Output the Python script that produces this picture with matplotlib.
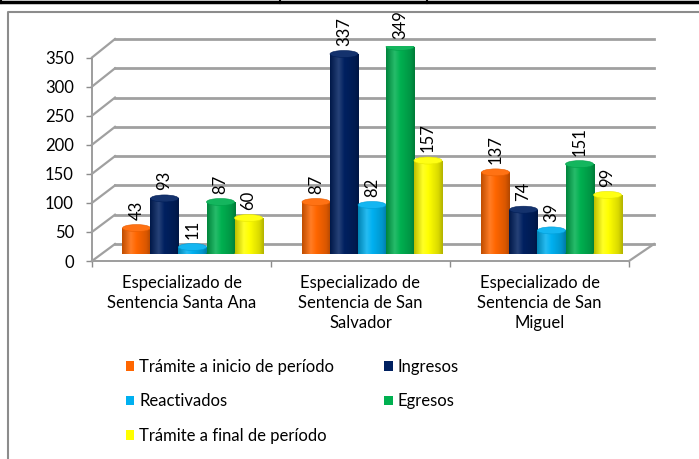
import numpy as np
import matplotlib
matplotlib.use('Agg')
import matplotlib.pyplot as plt
from matplotlib.colors import to_rgb, LinearSegmentedColormap
from matplotlib.patches import Ellipse, Patch
from matplotlib.lines import Line2D

plt.rcParams['font.family'] = ['Lato', 'DejaVu Sans']

#%% datos
categorias = ['Especializado de\nSentencia Santa Ana',
              'Especializado de\nSentencia de San\nSalvador',
              'Especializado de\nSentencia de San\nMiguel']
series = ['Trámite a inicio de período', 'Ingresos', 'Reactivados',
          'Egresos', 'Trámite a final de período']
tramite_inicio = [43, 87, 137]
ingresos = [93, 337, 74]
reactivados = [11, 82, 39]
egresos = [87, 349, 151]
tramite_final = [60, 157, 99]
colores = ['#FF6600', '#002060', '#00B0F0', '#00B050', '#FFFF00']
y_ticks = [0, 50, 100, 150, 200, 250, 300, 350]

valores = [tramite_inicio, ingresos, reactivados, egresos, tramite_final]

#%% figura
W, H = 699, 459
fig = plt.figure(figsize=(W / 100, H / 100), dpi=100)


def box(x0, y0, x1, y1):
    # caja en pixeles (origen arriba a la izquierda) -> rect de figura
    return [x0 / W, 1 - y1 / H, (x1 - x0) / W, (y1 - y0) / H]


def mezcla(c, f):
    c = np.array(to_rgb(c))
    if f >= 0:
        return tuple(c + (1 - c) * f)
    return tuple(c * (1 + f))


# pared del fondo
wall = fig.add_axes(box(115, 39, 654, 244))
wall.set_xlim(0, 1)
wall.set_ylim(0, 350)
wall.axis('off')
for v in y_ticks:
    wall.axhline(v, color='#A0A0A0', lw=2, clip_on=False, zorder=1)

# eje frontal
ax = fig.add_axes(box(92, 57.5, 629, 261))
ax.patch.set_visible(False)
ax.set_xlim(-0.5, 2.5)
ax.set_ylim(0, 350)
for s in ['top', 'right']:
    ax.spines[s].set_visible(False)
for s in ['left', 'bottom']:
    ax.spines[s].set_color('#8C8C8C')
    ax.spines[s].set_linewidth(1.2)
ax.set_yticks(y_ticks)
ax.set_yticklabels([str(v) for v in y_ticks], fontsize=12)
ax.tick_params(axis='y', length=4, width=1, color='#8C8C8C', pad=9)
ax.set_xticks([-0.5, 0.5, 1.5, 2.5])
ax.set_xticklabels([])
ax.tick_params(axis='x', which='major', length=4, width=1, color='#8C8C8C')
ax.set_xticks([0, 1, 2], minor=True)
ax.set_xticklabels(categorias, minor=True, fontsize=12)
ax.tick_params(axis='x', which='minor', length=0, pad=10)
for t in ax.get_xticklabels(minor=True):
    t.set_linespacing(1.3)

# barras (cilindros)
axb = fig.add_axes(box(102.75, 253.5 - 350 * 0.592, 641.25, 253.5))
axb.set_xlim(-0.5, 2.5)
axb.set_ylim(0, 350)
axb.axis('off')

ancho = 0.156
elip = 7 / 0.592
grad = np.linspace(0, 1, 64).reshape(1, -1)
for k, (vals, col) in enumerate(zip(valores, colores)):
    x = np.arange(len(categorias)) + (k - 2) * ancho
    cmap = LinearSegmentedColormap.from_list(
        'c%d' % k, [(0, mezcla(col, -0.25)), (0.3, mezcla(col, 0.15)),
                    (0.5, mezcla(col, 0.0)), (0.85, mezcla(col, -0.15)),
                    (1, mezcla(col, -0.3))])
    z = 3 + k * 0.1
    rects = axb.bar(x, vals, width=ancho, color=col, zorder=z)
    for xi, v, r in zip(x, vals, rects):
        axb.add_patch(Ellipse((xi, 0), ancho, elip, facecolor=mezcla(col, -0.3),
                              edgecolor='none', zorder=z - 0.01))
        im = axb.imshow(grad, extent=[xi - ancho / 2, xi + ancho / 2, 0, v],
                        aspect='auto', cmap=cmap, zorder=z + 0.01)
        im.set_clip_path(r)
        axb.add_patch(Ellipse((xi, v), ancho, elip, facecolor=mezcla(col, 0.08),
                              edgecolor=mezcla(col, -0.1), lw=0.4, zorder=z + 0.02))
        axb.annotate(str(v), (xi, v), xytext=(0, 6), textcoords='offset points',
                     rotation=90, ha='center', va='bottom', fontsize=12,
                     annotation_clip=False)
axb.set_xlim(-0.5, 2.5)
axb.set_ylim(0, 350)

# lineas de profundidad (eje frontal -> pared)
inv = fig.transFigure.inverted()
for v in y_ticks:
    p0 = inv.transform(ax.transData.transform((-0.5, v)))
    p1 = inv.transform(wall.transData.transform((0, v)))
    fig.add_artist(Line2D([p0[0], p1[0]], [p0[1], p1[1]], color='#A0A0A0', lw=1.6))
p0 = inv.transform(ax.transData.transform((2.5, 0)))
p1 = inv.transform(wall.transData.transform((1, 0)))
fig.add_artist(Line2D([p0[0], p1[0]], [p0[1], p1[1]], color='#A0A0A0', lw=1.6))

# leyenda
orden = [0, 2, 4, 1, 3]
handles = [Patch(facecolor=colores[i]) for i in orden]
fig.legend(handles, [series[i] for i in orden], loc='upper left',
           bbox_to_anchor=(126 / W, 1 - 359 / H), ncol=2, frameon=False,
           fontsize=12, handlelength=0.5, handleheight=0.5,
           handletextpad=0.3, labelspacing=1.1, columnspacing=3.0,
           borderpad=0, borderaxespad=0)

# marco
fig.add_artist(Line2D([8 / W, 8 / W, 1], [0, 1 - 12 / H, 1 - 12 / H],
                      color='#8C8C8C', lw=1.5))
fig.add_artist(Line2D([0, 1], [1 - 1.5 / H, 1 - 1.5 / H], color='black', lw=2.5))
for xv in [1, 280, 427]:
    fig.add_artist(Line2D([xv / W, xv / W], [1, 1 - 3 / H], color='black', lw=1.5))

fig.savefig('out.png', dpi=100)
